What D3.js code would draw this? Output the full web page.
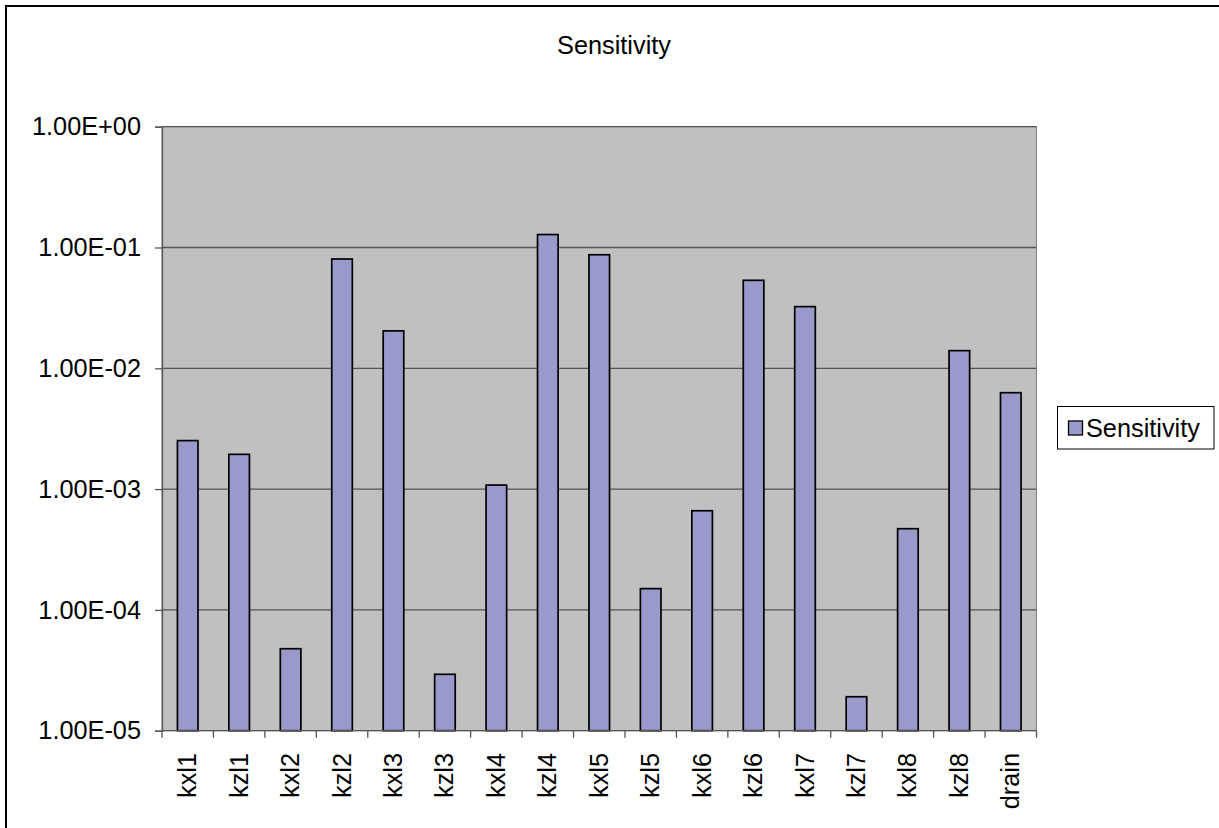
<!DOCTYPE html>
<html>
<head>
<meta charset="utf-8">
<script src="https://cdn.jsdelivr.net/npm/d3@7"></script>
<style>
  html, body { margin: 0; padding: 0; background: #fff; }
  svg text { font-family: "Liberation Sans", Arial, sans-serif; fill: #000; }
</style>
</head>
<body>
<svg id="chart" width="1219" height="828"></svg>
<script>
const categories = ["kxl1","kzl1","kxl2","kzl2","kxl3","kzl3","kxl4","kzl4","kxl5","kzl5","kxl6","kzl6","kxl7","kzl7","kxl8","kzl8","drain"];
const sensitivity = [2.52e-3, 1.94e-3, 4.77e-5, 8.03e-2, 2.04e-2, 2.93e-5, 1.08e-3, 1.28e-1, 8.71e-2, 1.50e-4, 6.62e-4, 5.35e-2, 3.24e-2, 1.91e-5, 4.70e-4, 1.40e-2, 6.28e-3];
const tickValues = [1e0, 1e-1, 1e-2, 1e-3, 1e-4, 1e-5];
const tickLabels = ["1.00E+00","1.00E-01","1.00E-02","1.00E-03","1.00E-04","1.00E-05"];
const seriesName = "Sensitivity";
const title = "Sensitivity";

const svg = d3.select("#chart");
const FS = 25.3;

// outer chart frame
svg.append("rect").attr("x", 6).attr("y", 6).attr("width", 1240).attr("height", 840)
  .attr("fill", "#fff").attr("stroke", "#000").attr("stroke-width", 2);

const plot = {left: 162, right: 1036.5, top: 126.7, bottom: 730.7};

const x = d3.scaleBand().domain(categories).range([plot.left, plot.right]).paddingInner(0.6).paddingOuter(0.3);
const xOuter = d3.scaleBand().domain(categories).range([plot.left, plot.right]).padding(0);
const y = d3.scaleLog().domain([1e-5, 1]).range([plot.bottom, plot.top]);

// plot area background
svg.append("rect").attr("x", plot.left).attr("y", plot.top)
  .attr("width", plot.right - plot.left).attr("height", plot.bottom - plot.top)
  .attr("fill", "#C0C0C0").attr("stroke", "#808080").attr("stroke-width", 1);

// gridlines
svg.append("g").selectAll("line").data(tickValues.slice(0, -1)).join("line")
  .attr("x1", plot.left).attr("x2", plot.right)
  .attr("y1", d => y(d)).attr("y2", d => y(d))
  .attr("stroke", "#555").attr("stroke-width", 1.3);

// bars
svg.append("g").selectAll("rect").data(categories).join("rect")
  .attr("x", d => x(d))
  .attr("width", x.bandwidth())
  .attr("y", (d, i) => y(sensitivity[i]))
  .attr("height", (d, i) => plot.bottom - y(sensitivity[i]))
  .attr("fill", "#9999CC").attr("stroke", "#000").attr("stroke-width", 1.7);

// y axis
const yAxis = d3.axisLeft(y).tickValues(tickValues)
  .tickFormat((d, i) => tickLabels[i]).tickSize(7).tickPadding(14);
const gy = svg.append("g").attr("transform", `translate(${plot.left},0)`).call(yAxis);
gy.select(".domain").attr("stroke", "#555").attr("stroke-width", 1.3);
gy.selectAll(".tick line").attr("stroke", "#555").attr("stroke-width", 1.3);
gy.selectAll(".tick text").attr("font-size", FS).attr("font-family", "Liberation Sans, Arial, sans-serif").attr("fill", "#000");

// x axis (ticks at category boundaries)
svg.append("line").attr("x1", plot.left).attr("x2", plot.right)
  .attr("y1", plot.bottom).attr("y2", plot.bottom).attr("stroke", "#555").attr("stroke-width", 1.3);
const boundaries = categories.map(c => xOuter(c)).concat([plot.right]);
svg.append("g").selectAll("line").data(boundaries).join("line")
  .attr("x1", d => d).attr("x2", d => d)
  .attr("y1", plot.bottom).attr("y2", plot.bottom + 7)
  .attr("stroke", "#555").attr("stroke-width", 1.3);

svg.append("g").selectAll("text").data(categories).join("text")
  .attr("transform", d => `translate(${xOuter(d) + xOuter.bandwidth() / 2 + 8.5},753) rotate(-90)`)
  .attr("text-anchor", "end")
  .attr("font-size", FS)
  .text(d => d);

// title
svg.append("text").attr("x", 614).attr("y", 54).attr("text-anchor", "middle")
  .attr("font-size", FS).text(title);

// legend
const lg = svg.append("g");
lg.append("rect").attr("x", 1057.5).attr("y", 406.5).attr("width", 156.5).attr("height", 42.5)
  .attr("fill", "#fff").attr("stroke", "#000").attr("stroke-width", 1);
lg.append("rect").attr("x", 1068.5).attr("y", 421).attr("width", 14).attr("height", 14)
  .attr("fill", "#9999CC").attr("stroke", "#000").attr("stroke-width", 1.3);
lg.append("text").attr("x", 1086).attr("y", 437).attr("font-size", FS).text(seriesName);
</script>
</body>
</html>
